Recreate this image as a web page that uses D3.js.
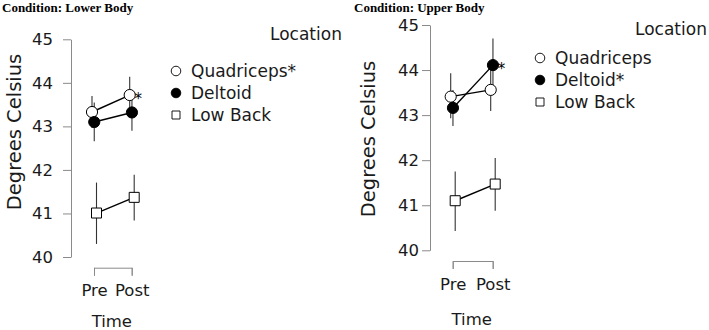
<!DOCTYPE html>
<html>
<head>
<meta charset="utf-8">
<script src="https://cdn.jsdelivr.net/npm/d3@7"></script>
<style>
  body { margin: 0; background: #fff; }
  svg { display: block; }
  .title { font-family: "Liberation Serif", serif; font-weight: bold; font-size: 13px; }
  .lbl { font-family: "DejaVu Sans", sans-serif; fill: #1a1a1a; }
</style>
</head>
<body>
<div id="chart"></div>
<script>
const width = 709, height = 330;

const times = ["Pre", "Post"];
const locations = ["Quadriceps", "Deltoid", "Low Back"];
const yTicks = [40, 41, 42, 43, 44, 45];

// lower body condition: rows = Quadriceps, Deltoid, Low Back; cols = Pre, Post
const lowerMean = [[43.33, 43.72], [43.10, 43.32], [41.01, 41.37]];
const lowerLow  = [[42.96, 43.30], [42.66, 42.90], [40.30, 40.84]];
const lowerHigh = [[43.70, 44.14], [43.55, 43.74], [41.71, 41.89]];
const lowerLegend = ["Quadriceps*", "Deltoid", "Low Back"];

// upper body condition
const upperMean = [[43.41, 43.56], [43.16, 44.11], [41.10, 41.47]];
const upperLow  = [[42.93, 43.09], [42.76, 43.52], [40.43, 40.88]];
const upperHigh = [[43.93, 44.03], [43.56, 44.70], [41.75, 42.05]];
const upperLegend = ["Quadriceps", "Deltoid*", "Low Back"];

const panels = [
  {title: "Condition: Lower Body", mean: lowerMean, lo: lowerLow, hi: lowerHigh, legend: lowerLegend,
   star: "Quadriceps", tx: 2, ax: 71, yTop: 39.3, yBot: 257, pre: 94, post: 131.7, brY: 267.7,
   pad: 10, labX: 21, labY: 132, timeY: 327, legX: 176, legY: 71, locX: 270, locY: 40},
  {title: "Condition: Upper Body", mean: upperMean, lo: upperLow, hi: upperHigh, legend: upperLegend,
   star: "Deltoid", tx: 354, ax: 430, yTop: 25, yBot: 250.3, pre: 452.7, post: 492.7, brY: 261,
   pad: 3, labX: 375, labY: 139, timeY: 325, legX: 540, legY: 58, locX: 635, locY: 35}
];

const shape = {"Quadriceps": d3.symbolCircle, "Deltoid": d3.symbolCircle, "Low Back": d3.symbolSquare};
const fill = {"Quadriceps": "#fff", "Deltoid": "#000", "Low Back": "#fff"};

const svg = d3.select("#chart").append("svg").attr("width", width).attr("height", height);

panels.forEach(p => {
  const g = svg.append("g");

  g.append("text").attr("class", "title")
    .attr("x", p.tx).attr("y", 11.5).text(p.title);

  let y = d3.scaleLinear().domain([40, 45]).range([p.yBot, p.yTop]);
  let x = d3.scalePoint().domain(times).range([p.pre, p.post]);
  let dodge = d3.scalePoint().domain(locations).range([-2, 2.5]);

  let yAxis = g.append("g")
    .attr("transform", `translate(${p.ax},0)`)
    .call(d3.axisLeft(y).tickValues(yTicks).tickFormat(d3.format("d"))
      .tickSize(8).tickSizeOuter(0).tickPadding(p.pad));
  yAxis.selectAll("path, line").attr("stroke", "#8a8a8a");
  yAxis.selectAll("text").attr("class", "lbl").style("font-size", "16.5px");

  let xAxis = g.append("g")
    .attr("transform", `translate(0,${p.brY})`)
    .call(d3.axisBottom(x).tickSize(8).tickSizeOuter(8).tickPadding(9));
  xAxis.selectAll("path, line").attr("stroke", "#8a8a8a");
  xAxis.selectAll("text").attr("class", "lbl").style("font-size", "16.5px");

  g.append("text").attr("class", "lbl")
    .attr("text-anchor", "middle")
    .attr("transform", `translate(${p.labX},${p.labY}) rotate(-90)`)
    .style("font-size", "19.5px")
    .text("Degrees Celsius");

  g.append("text").attr("class", "lbl")
    .attr("text-anchor", "middle")
    .attr("x", (p.pre + p.post) / 2 - 1).attr("y", p.timeY)
    .style("font-size", "16.5px")
    .text("Time");

  const series = locations.map((loc, i) => ({
    loc: loc,
    pts: times.map((t, j) => ({t: t, m: p.mean[i][j], lo: p.lo[i][j], hi: p.hi[i][j]}))
  }));

  const px = (s, d) => x(d.t) + dodge(s.loc);

  // error bars
  series.forEach(s => {
    g.selectAll(null).data(s.pts).enter().append("line")
      .attr("x1", d => px(s, d)).attr("x2", d => px(s, d))
      .attr("y1", d => y(d.lo)).attr("y2", d => y(d.hi))
      .attr("stroke", "#333").attr("stroke-width", 1.1);
  });

  let line = d3.line().x(d => d[0]).y(d => d[1]);
  series.forEach(s => {
    g.append("path")
      .attr("d", line(s.pts.map(d => [px(s, d), y(d.m)])))
      .attr("fill", "none").attr("stroke", "#000").attr("stroke-width", 1.4);
  });

  series.forEach(s => {
    g.selectAll(null).data(s.pts).enter().append("path")
      .attr("transform", d => `translate(${px(s, d)},${y(d.m)})`)
      .attr("d", d3.symbol().type(shape[s.loc]).size(s.loc == "Low Back" ? 100 : 98))
      .attr("fill", fill[s.loc]).attr("stroke", "#000").attr("stroke-width", 1);
  });

  // significance mark at post
  let st = series.find(s => s.loc == p.star);
  let last = st.pts[1];
  g.append("text")
    .attr("text-anchor", "middle")
    .attr("x", px(st, last) + 8.5).attr("y", y(last.m) + 9)
    .style("font-family", "DejaVu Sans").style("font-size", "15px").attr("fill", "#000")
    .text("*");

  // legend
  g.append("text").attr("class", "lbl")
    .attr("x", p.locX).attr("y", p.locY)
    .style("font-size", "17px")
    .text("Location");

  let leg = g.selectAll("g.leg").data(locations).enter().append("g")
    .attr("class", "leg")
    .attr("transform", (d, i) => `translate(${p.legX},${p.legY + i * 22})`);
  leg.append("path")
    .attr("d", d => d3.symbol().type(shape[d]).size(d == "Low Back" ? 64 : 72)())
    .attr("fill", d => fill[d]).attr("stroke", "#000").attr("stroke-width", 0.9);
  leg.append("text").attr("class", "lbl")
    .attr("x", 15).attr("dy", "0.36em")
    .style("font-size", "17px")
    .text((d, i) => p.legend[i]);
});
</script>
</body>
</html>
